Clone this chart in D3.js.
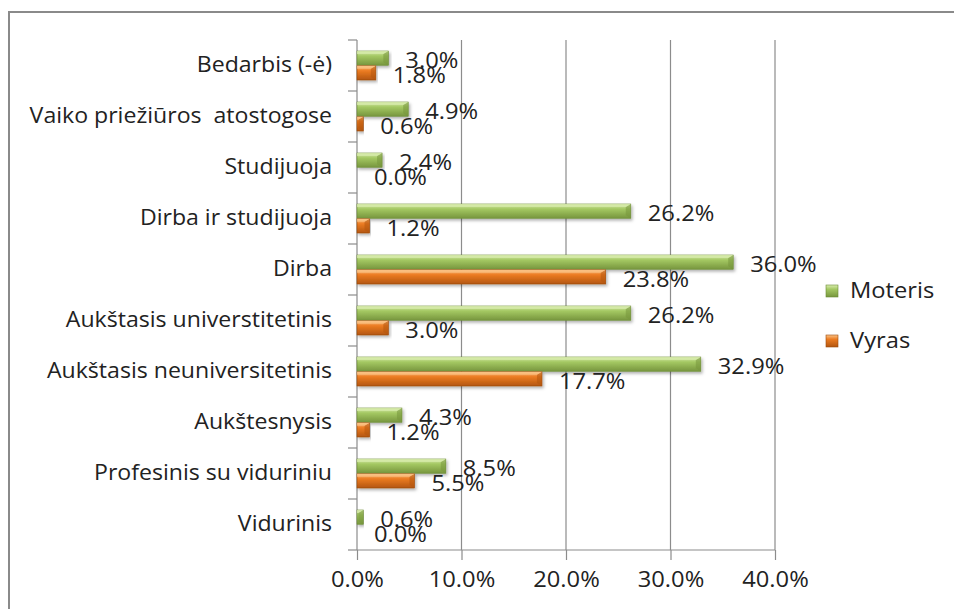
<!DOCTYPE html>
<html>
<head>
<meta charset="utf-8">
<script src="https://cdn.jsdelivr.net/npm/d3@7"></script>
<style>
  body { margin: 0; background: #fff; }
  svg { display: block; font-family: "Open Sans", sans-serif; }
</style>
</head>
<body>
<svg width="954" height="609"></svg>
<script>
var categories = [
  'Bedarbis (-ė)',
  'Vaiko priežiūros  atostogose',
  'Studijuoja',
  'Dirba ir studijuoja',
  'Dirba',
  'Aukštasis universtitetinis',
  'Aukštasis neuniversitetinis',
  'Aukštesnysis',
  'Profesinis su viduriniu',
  'Vidurinis'
]
var moteris = [3.0, 4.9, 2.4, 26.2, 36.0, 26.2, 32.9, 4.3, 8.5, 0.6]
var vyras = [1.8, 0.6, 0.0, 1.2, 23.8, 3.0, 17.7, 1.2, 5.5, 0.0]
var xTicks = [0, 10, 20, 30, 40]

var series = [
  { name: 'Moteris', values: moteris, light: '#d9ecae', mid: '#a4c863', dark: '#77963d', edge: '#6a8a33' },
  { name: 'Vyras', values: vyras, light: '#fbc488', mid: '#ec7c22', dark: '#b3560f', edge: '#9c4a0c' }
]

// the original text is a wide, short face: stretch Open Sans sideways a bit
var fontSize = 21
var stretch = 1.13
var catStretch = 1.1

var svg = d3.select('svg')
var defs = svg.append('defs')

series.forEach((s, i) => {
  var g = defs.append('linearGradient')
    .attr('id', 'grad' + i)
    .attr('x1', 0).attr('y1', 0).attr('x2', 0).attr('y2', 1)
  g.append('stop').attr('offset', '0%').attr('stop-color', s.light)
  g.append('stop').attr('offset', '35%').attr('stop-color', s.mid)
  g.append('stop').attr('offset', '100%').attr('stop-color', s.dark)
})

var shadow = defs.append('filter').attr('id', 'shadow')
  .attr('x', '-5%').attr('y', '-30%').attr('width', '115%').attr('height', '180%')
shadow.append('feDropShadow')
  .attr('dx', 1.5).attr('dy', 2).attr('stdDeviation', 1.5)
  .attr('flood-color', '#000').attr('flood-opacity', 0.3)

// chart border
svg.append('rect')
  .attr('x', 9).attr('y', 12)
  .attr('width', 960).attr('height', 620)
  .attr('fill', 'none').attr('stroke', '#8a8a8a').attr('stroke-width', 2)

var plotLeft = 357, plotRight = 775, plotTop = 40, plotBottom = 550

var x = d3.scaleLinear().domain([0, 40]).range([plotLeft, plotRight])
var y = d3.scaleBand().domain(categories).range([plotTop, plotBottom])
var inner = d3.scaleBand().domain(series.map(s => s.name))
  .range([0, 29.5]).paddingInner(0)

// gridlines
svg.append('g')
  .selectAll('line')
  .data(xTicks.slice(1))
  .join('line')
  .attr('x1', d => x(d)).attr('x2', d => x(d))
  .attr('y1', plotTop).attr('y2', plotBottom)
  .attr('stroke', '#8c8c8c').attr('stroke-width', 1.2)

// x axis
var xAxis = svg.append('g')
  .attr('transform', 'translate(0,' + plotBottom + ')')
  .call(d3.axisBottom(x).tickValues(xTicks).tickSize(10).tickPadding(12)
    .tickFormat(d => d.toFixed(1) + '%'))
xAxis.select('.domain').attr('stroke', '#8c8c8c').attr('stroke-width', 1.2)
  .attr('d', 'M' + plotLeft + ',0H' + plotRight)
xAxis.selectAll('.tick line').attr('stroke', '#8c8c8c').attr('stroke-width', 1.2)
xAxis.selectAll('.tick text')
  .attr('fill', '#222').attr('font-size', fontSize)
  .attr('font-family', '"Open Sans", sans-serif')
  .attr('transform', 'scale(' + stretch + ',1)')

// y axis
var yAxis = svg.append('g')
  .attr('transform', 'translate(' + plotLeft + ',0)')
  .call(d3.axisLeft(y).tickSize(0).tickPadding(25))
yAxis.select('.domain').attr('stroke', '#8c8c8c').attr('stroke-width', 1.2)
  .attr('d', 'M0,' + plotTop + 'V' + plotBottom)
yAxis.selectAll('.tick text')
  .attr('fill', '#222').attr('font-size', fontSize)
  .attr('font-family', '"Open Sans", sans-serif')
  .attr('x', -25 / catStretch)
  .attr('transform', 'scale(' + catStretch + ',1)')
  .style('white-space', 'pre')
yAxis.append('g')
  .selectAll('line')
  .data(d3.range(categories.length + 1))
  .join('line')
  .attr('x1', -9).attr('x2', 0)
  .attr('y1', i => plotTop + i * y.step()).attr('y2', i => plotTop + i * y.step())
  .attr('stroke', '#8c8c8c').attr('stroke-width', 1.2)

// bars
series.forEach((s, si) => {
  var g = svg.append('g')
  var rows = categories.map((c, i) => ({ c: c, v: s.values[i] }))
  var yOff = d => y(d.c) + y.bandwidth() / 2 - 14.5 + inner(s.name)
  var h = inner.bandwidth() - 0.5

  g.selectAll('rect')
    .data(rows.filter(d => d.v > 0))
    .join('rect')
    .attr('x', plotLeft)
    .attr('y', yOff)
    .attr('width', d => x(d.v) - plotLeft)
    .attr('height', h)
    .attr('fill', 'url(#grad' + si + ')')
    .attr('stroke', s.edge).attr('stroke-width', 0.6)
    .attr('filter', 'url(#shadow)')

  // bevelled end cap
  g.selectAll('path.cap')
    .data(rows.filter(d => x(d.v) - plotLeft > 6))
    .join('path')
    .attr('class', 'cap')
    .attr('d', d => {
      var xe = x(d.v), y0 = yOff(d)
      return 'M' + (xe - 5) + ',' + (y0 + 3) + 'L' + xe + ',' + y0 +
        'L' + xe + ',' + (y0 + h) + 'L' + (xe - 5) + ',' + (y0 + h - 3) + 'Z'
    })
    .attr('fill', s.dark).attr('opacity', 0.55)

  // top highlight strip
  g.selectAll('path.hl')
    .data(rows.filter(d => x(d.v) - plotLeft > 6))
    .join('path')
    .attr('class', 'hl')
    .attr('d', d => {
      var xe = x(d.v), y0 = yOff(d)
      return 'M' + plotLeft + ',' + y0 + 'H' + xe + 'L' + (xe - 5) + ',' + (y0 + 3) + 'H' + plotLeft + 'Z'
    })
    .attr('fill', s.light).attr('opacity', 0.7)

  g.selectAll('text')
    .data(rows)
    .join('text')
    .attr('transform', d => 'translate(' + (x(d.v) + 17) + ',' + (yOff(d) + h / 2 + 2.5) + ') scale(' + stretch + ',1)')
    .attr('dy', '0.35em')
    .attr('font-size', fontSize)
    .attr('fill', '#222')
    .text(d => d.v.toFixed(1) + '%')
})

// legend
var legend = svg.append('g').attr('transform', 'translate(826,285)')
series.forEach((s, i) => {
  var row = legend.append('g').attr('transform', 'translate(0,' + i * 50 + ')')
  row.append('rect')
    .attr('width', 12).attr('height', 12)
    .attr('fill', 'url(#grad' + i + ')')
    .attr('stroke', s.edge).attr('stroke-width', 0.6)
  row.append('text')
    .attr('transform', 'translate(24,6) scale(' + stretch + ',1)')
    .attr('dy', '0.35em')
    .attr('font-size', fontSize).attr('fill', '#222')
    .text(s.name)
})
</script>
</body>
</html>
